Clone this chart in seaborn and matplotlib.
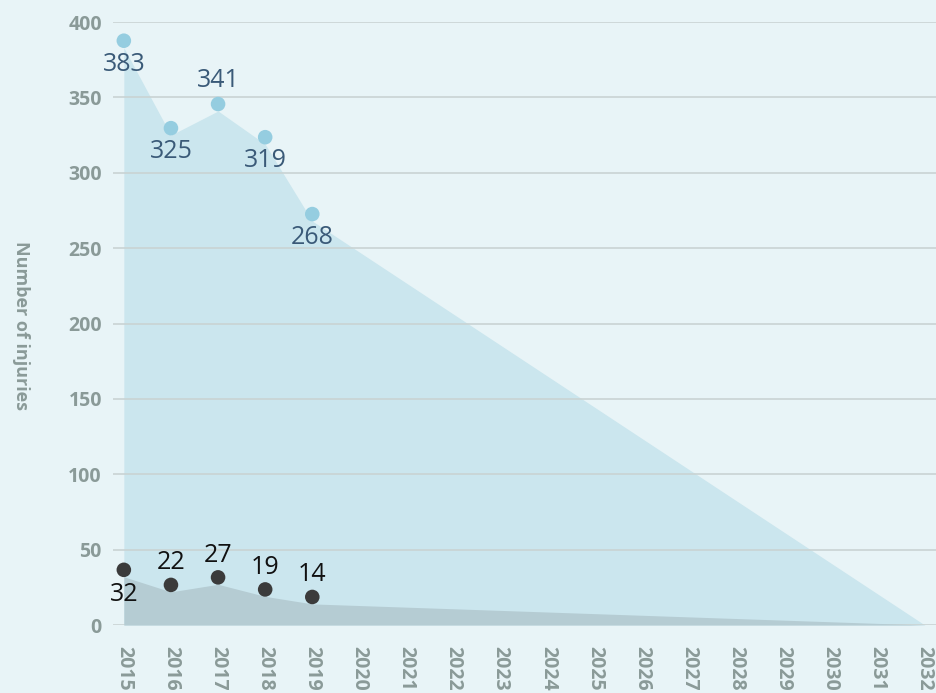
import numpy as np
import pandas as pd
import matplotlib
matplotlib.use('Agg')
import matplotlib.pyplot as plt
import matplotlib.transforms as mtransforms
import seaborn as sns

# observed years + projected end point
years = [2015, 2016, 2017, 2018, 2019]
injuries = [383, 325, 341, 319, 268]
serious = [32, 22, 27, 19, 14]
target_year = 2032
target_value = 0
tick_years = list(range(2015, 2033))

bg = '#e8f4f7'
sns.set_theme(style='white')
plt.rcParams['font.family'] = ['Open Sans', 'DejaVu Sans']

fig = plt.figure(figsize=(9.37, 6.93), dpi=100, facecolor=bg)
ax = fig.add_axes([0.1206, 0.0981, 0.8794, 0.8701])
ax.set_facecolor(bg)

area_x = years + [target_year]
ax.fill_between(area_x, injuries + [target_value], color='#cbe6ee', lw=0, zorder=2)
ax.fill_between(area_x, serious + [target_value], color='#b5ccd3', lw=0, zorder=3)

df = pd.DataFrame({'year': years, 'injuries': injuries, 'serious': serious})
sns.scatterplot(data=df, x='year', y='injuries', ax=ax, color='#95cde0',
                s=110, edgecolor='none', zorder=5)
sns.scatterplot(data=df, x='year', y='serious', ax=ax, color='#3b3b3b',
                s=110, edgecolor='none', zorder=5)
# markers sit a little above the area edge in the original
shift = mtransforms.ScaledTranslation(0, 5 / 72, fig.dpi_scale_trans)
for coll in ax.collections[2:]:
    coll.set_offset_transform(ax.transData + shift)

# label placement: below (-1) or above (+1)
top_side = [-1, -1, 1, -1, -1]
low_side = [-1, 1, 1, 1, 1]
for x, v, s in zip(years, injuries, top_side):
    ax.annotate(str(v), (x, v), xytext=(0, 5 + 17 * s), textcoords='offset points',
                ha='center', va='center', fontsize=18, color='#3a5a78', zorder=6)
for x, v, s in zip(years, serious, low_side):
    ax.annotate(str(v), (x, v), xytext=(0, 4 + 17 * s), textcoords='offset points',
                ha='center', va='center', fontsize=18, color='#111111', zorder=6)

ax.set_xlim(2014.77, 2032.26)
ax.set_ylim(0, 400)
ax.set_yticks(range(0, 401, 50))
ax.set_xticks(tick_years)
ax.set_xticklabels([str(y) for y in tick_years], rotation=-90)
ax.yaxis.grid(True, color='#c9d3d3', lw=1.2, zorder=1)
ax.xaxis.grid(False)
ax.set_axisbelow(False)
for sp in ax.spines.values():
    sp.set_visible(False)
ax.tick_params(axis='both', length=0, labelsize=14, labelcolor='#8a9a98')
ax.tick_params(axis='x', pad=15)
ax.tick_params(axis='y', pad=8)
for lab in ax.get_xticklabels() + ax.get_yticklabels():
    lab.set_fontweight('bold')
ax.set_xlabel('')
ax.set_ylabel('')
fig.text(0.022, 0.53, 'Number of injuries', rotation=-90, ha='center', va='center',
         fontsize=13, fontweight='bold', color='#8a9a98')

fig.savefig('out.png', dpi=100, facecolor=bg)
